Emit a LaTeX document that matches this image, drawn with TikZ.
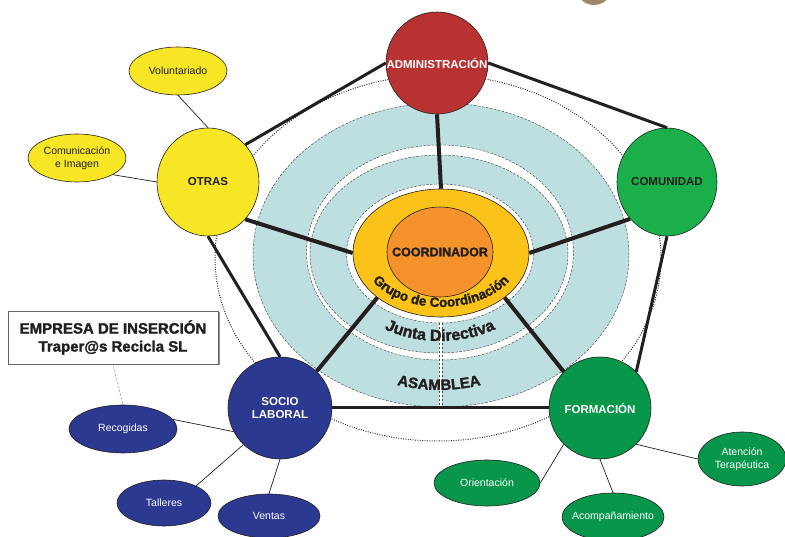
\documentclass[tikz,border=0pt]{standalone}
\usepackage{fontspec}
\setmainfont{Liberation Sans}
\newfontfamily\heavyfont{Liberation Sans}[UprightFont={* Bold}, FakeBold=1.6]
\usetikzlibrary{shapes.geometric,decorations.text}
\definecolor{lc}{HTML}{231F20}
\definecolor{dl}{HTML}{4D4D4D}
\definecolor{cband}{HTML}{BEDFDF}
\definecolor{cred}{HTML}{B83232}
\definecolor{cgreenA}{HTML}{1AAF4B}
\definecolor{cgreenB}{HTML}{07964A}
\definecolor{cblue}{HTML}{2B3990}
\definecolor{cyellow}{HTML}{F7E625}
\definecolor{cgold}{HTML}{FBC31A}
\definecolor{corange}{HTML}{F4922B}
\definecolor{cbrown}{HTML}{9E8768}
\begin{document}
\begin{tikzpicture}[x=1pt,y=1pt,
  bigshape/.style={ellipse, draw=lc, line width=0.6pt, inner sep=0pt},
  bigtext/.style={inner sep=0pt, align=center, font=\fontsize{11.5}{13}\selectfont\bfseries},
  leafshape/.style={ellipse, draw=lc, line width=0.6pt, inner sep=0pt},
  leaftext/.style={inner sep=0pt, align=center, font=\fontsize{10.5}{12.5}\selectfont},
  pent/.style={draw=lc, line width=3pt},
  spoke/.style={draw=lc, line width=4pt},
  leafline/.style={draw=lc, line width=0.7pt},
  bandline/.style={draw=dl, line width=0.5pt, dash pattern=on 2.5pt off 1.5pt},
]
\useasboundingbox (0,0) rectangle (785,-537);
\fill[white] (0,0) rectangle (785,-537);
% small partial circle at the top
\fill[cbrown] (594,13) circle (18);
% rings
\draw[lc, line width=1pt, dash pattern=on 0.9pt off 1.5pt] (438,-258) ellipse [x radius=223, y radius=183];
\draw[bandline, fill=cband] (441,-255) ellipse [x radius=188, y radius=152];
\draw[bandline, fill=white] (440,-252.5) ellipse [x radius=133.5, y radius=107.5];
\draw[bandline, fill=cband] (439,-254) ellipse [x radius=129, y radius=99];
\draw[bandline, fill=white] (440,-253.5) ellipse [x radius=93.5, y radius=69.5];
\fill[white] (439,-323) rectangle (442,-407);
\draw[bandline] (439,-323) -- (439,-407);
\draw[bandline] (442,-323) -- (442,-407);
% centre
\node[bigshape, fill=cgold, minimum width=176, minimum height=128] (coord) at (441,-253) {};
\node[bigshape, fill=corange, minimum width=106, minimum height=90] (cinner) at (440,-252) {};
\node[inner sep=0pt, font=\fontsize{12.5}{13}\heavyfont, text=lc] (cinnerT) at (440,-252) {COORDINADOR};
% curved texts
\path[decorate, decoration={text along path, text align=center, text color=lc,
  text={|\fontsize{13.5}{14}\heavyfont|Grupo de Coordinación}}]
  (441,-253) ++(190:80 and 54) arc[start angle=190, end angle=350, x radius=80, y radius=54];
\path[decorate, decoration={text along path, text align=center, text color=lc,
  text={|\fontsize{16}{16}\heavyfont|Junta Directiva}}]
  (440,-254) ++(200:110 and 87) arc[start angle=200, end angle=340, x radius=110, y radius=87];
\path[decorate, decoration={text along path, text align=center, text color=lc,
  text={|\fontsize{15}{15}\heavyfont|ASAMBLEA}}]
  (439,-254) ++(220:155 and 136) arc[start angle=220, end angle=320, x radius=155, y radius=136];
% outer nodes
\node[bigshape, fill=cred, minimum width=102, minimum height=102] (admin) at (437,-63) {};
\node[bigshape, fill=cgreenA, minimum width=100, minimum height=108] (comunidad) at (667,-182) {};
\node[bigshape, fill=cyellow, minimum width=102, minimum height=108] (otras) at (208,-182) {};
\node[bigshape, fill=cblue, minimum width=104, minimum height=102] (socio) at (280,-408) {};
\node[bigshape, fill=cgreenB, minimum width=102, minimum height=102] (formacion) at (600,-408) {};
\node[bigtext, text=white] (adminT) at (admin) {ADMINISTRACIÓN};
\node[bigtext, text=lc] (comunidadT) at (comunidad) {COMUNIDAD};
\node[bigtext, text=lc] (otrasT) at (otras) {OTRAS};
\node[bigtext, text=white] (socioT) at (socio) {SOCIO\\LABORAL};
\node[bigtext, text=white] (formacionT) at (formacion) {FORMACIÓN};
% pentagon
\draw[pent] (otras.45) -- (admin.west);
\draw[pent] (admin.east) -- (comunidad.north);
\draw[pent] (comunidad.south) -- (formacion.45);
\draw[pent] (formacion.west) -- (socio.east);
\draw[pent] (socio.north) -- (otras.south);
% spokes
\draw[spoke] (admin.south) -- (coord.north);
\draw[spoke] (otras.-45) -- (coord.west);
\draw[spoke] (comunidad.225) -- (coord.east);
\draw[spoke] (socio.45) -- (coord.215);
\draw[spoke] (formacion.135) -- (coord.325);
% leaves
\node[leafshape, fill=cyellow, minimum width=98, minimum height=48] (volunt) at (178,-71) {};
\node[leafshape, fill=cyellow, minimum width=98, minimum height=48] (comunic) at (77,-158) {};
\node[leafshape, fill=cblue, minimum width=108, minimum height=48] (recog) at (123,-429) {};
\node[leafshape, fill=cblue, minimum width=94, minimum height=46] (talleres) at (164,-503) {};
\node[leafshape, fill=cblue, minimum width=102, minimum height=44] (ventas) at (269,-516) {};
\node[leafshape, fill=cgreenB, minimum width=106, minimum height=46] (orient) at (487,-483) {};
\node[leafshape, fill=cgreenB, minimum width=102, minimum height=48] (acomp) at (613,-517) {};
\node[leafshape, fill=cgreenB, minimum width=88, minimum height=54] (atenc) at (742,-459) {};
\node[leaftext, text=lc] (voluntT) at (volunt) {Voluntariado};
\node[leaftext, text=lc] (comunicT) at (comunic) {Comunicación\\e Imagen};
\node[leaftext, text=white] (recogT) at (recog) {Recogidas};
\node[leaftext, text=white] (talleresT) at (talleres) {Talleres};
\node[leaftext, text=white] (ventasT) at (ventas) {Ventas};
\node[leaftext, text=white] (orientT) at (orient) {Orientación};
\node[leaftext, text=white] (acompT) at (acomp) {Acompañamiento};
\node[leaftext, text=white] (atencT) at (atenc) {Atención\\Terapéutica};
\draw[leafline] (volunt.south) -- (otras.north);
\draw[leafline] (comunic.-25) -- (otras.west);
\draw[leafline] (recog.11) -- (socio.207);
\draw[leafline] (talleres.28) -- (socio.225);
\draw[leafline] (ventas.north) -- (socio.south);
\draw[leafline] (orient.east) -- (formacion.225);
\draw[leafline] (acomp.north) -- (formacion.south);
\draw[leafline] (formacion.315) -- (atenc.west);
% company box
\fill[black!45] (9.5,-312.5) rectangle (219.5,-365.5);
\node[draw=black!60, line width=0.7pt, fill=white, minimum width=210, minimum height=53, inner sep=0pt,
  align=center, font=\fontsize{15}{18}\heavyfont, text=lc] (empresa) at (113,-337.5)
  {EMPRESA DE INSERCIÓN\\Traper@s Recicla SL};
\draw[black!50, line width=0.6pt, dash pattern=on 0.6pt off 0.8pt] (empresa.south) -- (recog.north);
\end{tikzpicture}
\end{document}
